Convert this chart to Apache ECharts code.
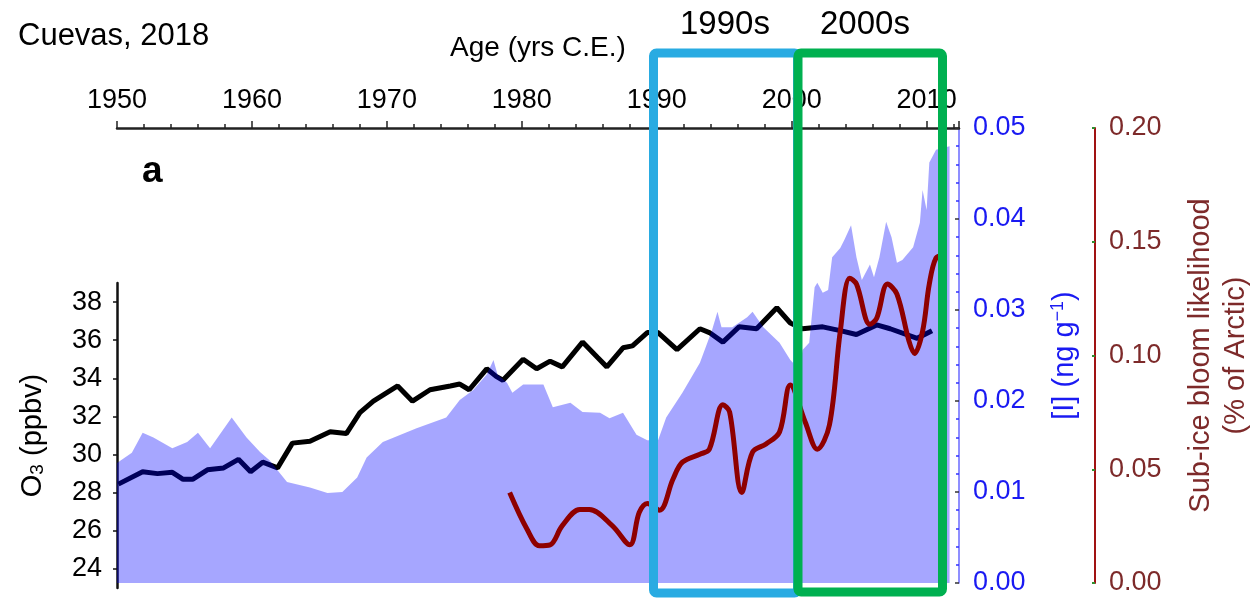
<html>
<head>
<meta charset="utf-8">
<script src="https://cdn.jsdelivr.net/npm/echarts@6/dist/echarts.min.js"></script>
<style>
  html, body { margin: 0; padding: 0; background: #fff; }
  #main { width: 1254px; height: 598px; }
</style>
</head>
<body>
<div id="main"></div>
<script type="text/javascript">
// [I] record (ng/g), blue filled area
var iodineYears = [1950.0, 1951.1, 1951.9, 1952.7, 1954.1, 1955.2, 1956.0, 1956.9, 1958.5, 1959.6,
  1960.6, 1961.3, 1962.6, 1964.3, 1965.6, 1966.7, 1967.8, 1968.5, 1969.7, 1972.2,
  1974.4, 1975.4, 1976.4, 1977.4, 1977.9, 1978.2, 1978.9, 1979.3, 1980.1, 1981.6,
  1982.3, 1983.6, 1984.5, 1985.8, 1986.5, 1987.5, 1988.5, 1989.3, 1990.1, 1990.7,
  1991.9, 1993.2, 1994.1, 1994.5, 1994.8, 1995.6, 1996.7, 1997.1, 1997.9, 1999.1,
  1999.9, 2000.6, 2000.8, 2001.3, 2001.7, 2001.9, 2002.3, 2002.7, 2003.0, 2003.6,
  2003.9, 2004.4, 2004.8, 2005.2, 2005.8, 2006.1, 2006.5, 2007.0, 2007.4, 2007.8,
  2008.2, 2009.0, 2009.5, 2009.7, 2010.0, 2010.2, 2010.7, 2011.7];
var iodine = [0.0132, 0.0143, 0.0165, 0.0160, 0.0148, 0.0155, 0.0165, 0.0148, 0.0182, 0.0160,
  0.0144, 0.0135, 0.0111, 0.0105, 0.0099, 0.0100, 0.0116, 0.0138, 0.0155, 0.0170,
  0.0182, 0.0201, 0.0212, 0.0229, 0.0245, 0.0229, 0.0220, 0.0209, 0.0218, 0.0218,
  0.0193, 0.0198, 0.0188, 0.0187, 0.0181, 0.0187, 0.0163, 0.0157, 0.0157, 0.0182,
  0.0209, 0.0242, 0.0278, 0.0298, 0.0281, 0.0281, 0.0292, 0.0298, 0.0281, 0.0264,
  0.0245, 0.0234, 0.0256, 0.0264, 0.0325, 0.0330, 0.0319, 0.0322, 0.0358, 0.0368,
  0.0377, 0.0393, 0.0358, 0.0333, 0.0350, 0.0336, 0.0358, 0.0397, 0.0380, 0.0352,
  0.0355, 0.0369, 0.0396, 0.0432, 0.0410, 0.0462, 0.0476, 0.0480];

// O3 (ppbv), black line
var o3Years = [1950.1, 1951.9, 1953.0, 1954.1, 1954.9, 1955.6, 1956.7, 1957.9, 1959.0, 1959.9,
  1960.8, 1961.9, 1963.0, 1964.3, 1965.8, 1967.0, 1968.0, 1969.0, 1970.8, 1971.9,
  1973.2, 1974.7, 1975.4, 1976.1, 1977.4, 1978.1, 1978.6, 1980.1, 1981.1, 1982.1,
  1983.0, 1984.5, 1985.6, 1986.3, 1987.5, 1988.2, 1989.3, 1990.1, 1991.5, 1993.2,
  1993.9, 1994.9, 1996.1, 1997.4, 1998.9, 1999.9, 2000.8, 2002.3, 2003.6, 2004.8,
  2006.3, 2007.3, 2009.3, 2010.4];
var o3 = [28.45, 29.1, 29.0, 29.07, 28.7, 28.7, 29.2, 29.3, 29.75, 29.1,
  29.6, 29.3, 30.6, 30.7, 31.2, 31.1, 32.2, 32.8, 33.6, 32.8,
  33.4, 33.6, 33.7, 33.4, 34.5, 34.1, 33.9, 35.0, 34.5, 34.9,
  34.6, 35.9, 35.1, 34.6, 35.6, 35.7, 36.4, 36.4, 35.5, 36.6,
  36.4, 35.9, 36.7, 36.6, 37.7, 36.9, 36.6, 36.7, 36.5, 36.3,
  36.8, 36.6, 36.1, 36.5];

// sub-ice bloom likelihood (% of Arctic), dark red line
var bloomYears = [1979.1, 1980.4, 1981.3, 1982.1, 1983.0, 1984.3, 1985.0, 1986.7, 1988.0, 1988.7,
  1989.3, 1990.2, 1991.2, 1991.9, 1993.2, 1993.9, 1994.9, 1995.4, 1996.3, 1997.1,
  1998.1, 1999.1, 1999.9, 2001.0, 2001.9, 2002.8, 2003.6, 2004.3, 2004.8, 2005.8,
  2006.3, 2007.1, 2007.8, 2008.7, 2009.1, 2009.7, 2010.2, 2010.7, 2011.3];
var bloom = [0.0398, 0.0235, 0.0164, 0.0168, 0.0252, 0.0323, 0.0323, 0.0252, 0.0168, 0.0310,
  0.0350, 0.0320, 0.0456, 0.0531, 0.0566, 0.0588, 0.0783, 0.0752, 0.0398, 0.0575,
  0.0611, 0.0664, 0.0870, 0.0708, 0.0588, 0.0695, 0.1106, 0.1340, 0.1314, 0.1137,
  0.1164, 0.1314, 0.1270, 0.1062, 0.1009, 0.1106, 0.1314, 0.1429, 0.1440];

var o3Ticks = [24, 26, 28, 30, 32, 34, 36, 38];

function pairs(xs, ys) {
  var res = [];
  for (var i = 0; i < xs.length; i++) res.push([xs[i], ys[i]]);
  return res;
}

var FONT = 'Liberation Sans, Arial, sans-serif';
var BLUE = '#1a1af2';
var BROWN = '#7d2a2a';

var myChart = echarts.init(document.getElementById('main'));

var option = {
  animation: false,
  textStyle: { fontFamily: FONT },
  grid: [
    { left: 117, right: 295, top: 128, bottom: 15, outerBoundsMode: 'none' },
    { left: 117, right: 295, top: 283, bottom: 10, outerBoundsMode: 'none' }
  ],
  xAxis: [{
    gridIndex: 0,
    type: 'value',
    position: 'top',
    min: 1950, max: 2012.4, interval: 10,
    name: 'Age (yrs C.E.)',
    nameLocation: 'middle',
    nameGap: 66,
    nameTextStyle: { color: '#000', fontSize: 28, fontFamily: FONT },
    axisLine: { onZero: false, lineStyle: { color: '#222', width: 2.5 } },
    axisTick: { length: 7, lineStyle: { color: '#222', width: 1.5 } },
    minorTick: { show: true, splitNumber: 5, length: 4, lineStyle: { color: '#222', width: 1.5 } },
    axisLabel: { color: '#000', fontSize: 27, margin: 14, showMaxLabel: false, formatter: function (v) { return String(v); } },
    splitLine: { show: false }
  }, {
    gridIndex: 1,
    type: 'value',
    min: 1950, max: 2012.4,
    axisLine: { onZero: false },
    show: false
  }],
  yAxis: [{
    gridIndex: 0,
    type: 'value',
    position: 'right',
    min: 0, max: 0.05, interval: 0.01,
    name: '[I] (ng g{sup|\u22121})',
    nameLocation: 'middle',
    nameRotate: 90,
    nameGap: 90,
    nameTextStyle: {
      color: BLUE, fontSize: 29, fontFamily: FONT,
      rich: { sup: { color: BLUE, fontSize: 18, fontFamily: FONT, verticalAlign: 'top', padding: [0, 0, 14, 0] } }
    },
    axisLine: { onZero: false, lineStyle: { color: '#6a6aff', width: 1.5 } },
    axisTick: { inside: true, length: 4, lineStyle: { color: '#333', width: 1.5 } },
    minorTick: { show: true, splitNumber: 5, length: 3, lineStyle: { color: '#3030ff', width: 1.5 } },
    axisLabel: { color: BLUE, fontSize: 27, margin: 14, formatter: function (v) { return v.toFixed(2); } },
    splitLine: { show: false }
  }, {
    gridIndex: 0,
    type: 'value',
    position: 'right',
    offset: 136,
    min: 0, max: 0.2, interval: 0.05,
    name: 'Sub-ice bloom likelihood\n(% of Arctic)',
    nameLocation: 'middle',
    nameRotate: 90,
    nameGap: 88,
    nameTextStyle: { color: BROWN, fontSize: 29, fontFamily: FONT, lineHeight: 35 },
    axisLine: { onZero: false, lineStyle: { color: '#a01212', width: 2 } },
    axisTick: { inside: true, length: 3, lineStyle: { color: '#2f8f2f', width: 2 } },
    axisLabel: { color: BROWN, fontSize: 27, margin: 14, formatter: function (v) { return v.toFixed(2); } },
    splitLine: { show: false }
  }, {
    gridIndex: 1,
    type: 'value',
    position: 'left',
    min: 23, max: 39,
    name: 'O{sub|3} (ppbv)',
    nameLocation: 'middle',
    nameRotate: 90,
    nameGap: 70,
    nameTextStyle: {
      color: '#000', fontSize: 29, fontFamily: FONT,
      rich: { sub: { color: '#000', fontSize: 19, fontFamily: FONT, verticalAlign: 'bottom', padding: [10, 0, 0, 0] } }
    },
    axisLine: { onZero: false, lineStyle: { color: '#111', width: 2.5 } },
    axisTick: { customValues: o3Ticks, length: 4, lineStyle: { color: '#111', width: 1.5 } },
    axisLabel: { customValues: o3Ticks, color: '#000', fontSize: 27, margin: 15 },
    splitLine: { show: false }
  }],
  series: [{
    name: 'O3',
    type: 'line',
    xAxisIndex: 1, yAxisIndex: 2,
    data: pairs(o3Years, o3),
    showSymbol: false,
    lineStyle: { color: '#000', width: 5 },
    z: 2
  }, {
    name: '[I]',
    type: 'line',
    xAxisIndex: 0, yAxisIndex: 0,
    data: pairs(iodineYears, iodine),
    showSymbol: false,
    lineStyle: { width: 0 },
    areaStyle: { color: '#0000ff', opacity: 0.35 },
    z: 3
  }, {
    name: 'bloom',
    type: 'line',
    xAxisIndex: 0, yAxisIndex: 1,
    data: pairs(bloomYears, bloom),
    smooth: 0.35,
    showSymbol: false,
    lineStyle: { color: '#8e0000', width: 5 },
    z: 4
  }],
  graphic: [
    { type: 'text', left: 18, top: 21, z: 100,
      style: { text: 'Cuevas, 2018', font: '31px ' + FONT, fill: '#000' } },
    { type: 'text', left: 680, top: 8, z: 100,
      style: { text: '1990s', font: '33px ' + FONT, fill: '#000' } },
    { type: 'text', left: 820, top: 8, z: 100,
      style: { text: '2000s', font: '33px ' + FONT, fill: '#000' } },
    { type: 'text', left: 142, top: 153, z: 100,
      style: { text: 'a', font: 'bold 37px ' + FONT, fill: '#000' } },
    { type: 'rect', z: 100,
      shape: { x: 653.5, y: 53, width: 144, height: 540, r: 3 },
      style: { fill: 'none', stroke: '#29abe2', lineWidth: 9 } },
    { type: 'rect', z: 101,
      shape: { x: 798, y: 53, width: 144.5, height: 539, r: 3 },
      style: { fill: 'none', stroke: '#00b050', lineWidth: 9 } }
  ]
};

myChart.setOption(option);
</script>
</body>
</html>
